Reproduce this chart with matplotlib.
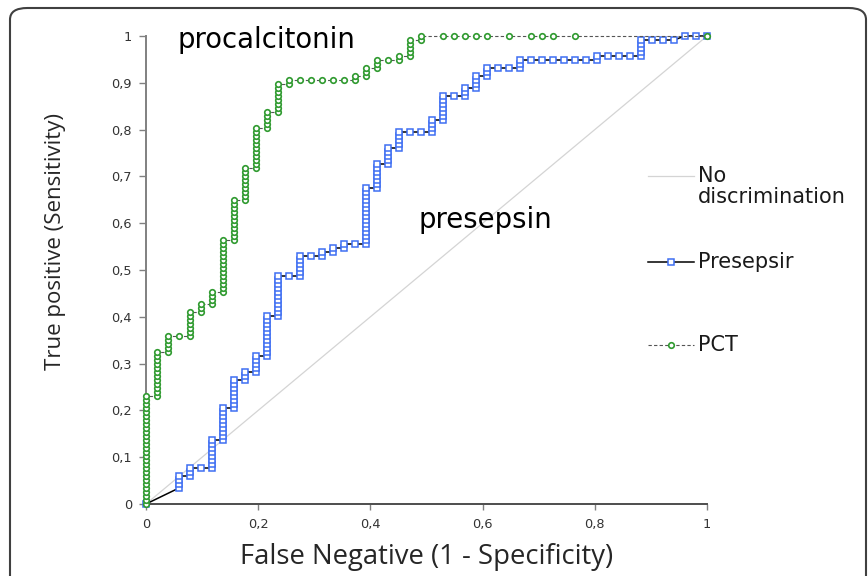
import matplotlib
matplotlib.use("Agg")
import matplotlib.pyplot as plt
from matplotlib.lines import Line2D
from matplotlib.patches import FancyBboxPatch

# ROC counts: number of negatives (false positives) and positives (true positives)
n_neg = 51
n_pos = 117

# Presepsin: false-positive count per column, true-positive counts at each cut-off in that column
presepsin_fp = [0, 3, 4, 5, 6, 7, 8, 9, 10, 11, 12, 13, 14, 15, 16, 17, 18, 19, 20,
                21, 22, 23, 24, 25, 26, 27, 28, 29, 30, 31, 32, 33, 34, 35, 36, 37,
                38, 39, 40, 41, 42, 43, 44, 45, 46, 47, 48, 49, 50, 51]
presepsin_tp = [
    [0],
    [4, 5, 6, 7],
    [7, 8, 9],
    [9],
    [9, 10, 11, 12, 13, 14, 15, 16],
    [16, 17, 18, 19, 20, 21, 22, 23, 24],
    [24, 25, 26, 27, 28, 29, 30, 31],
    [31, 32, 33],
    [33, 34, 35, 36, 37],
    [37, 38, 39, 40, 41, 42, 43, 44, 45, 46, 47],
    [47, 48, 49, 50, 51, 52, 53, 54, 55, 56, 57],
    [57],
    [57, 58, 59, 60, 61, 62],
    [62],
    [62, 63],
    [63, 64],
    [64, 65],
    [65],
    [65, 66, 67, 68, 69, 70, 71, 72, 73, 74, 75, 76, 77, 78, 79],
    [79, 80, 81, 82, 83, 84, 85],
    [85, 86, 87, 88, 89],
    [89, 90, 91, 92, 93],
    [93],
    [93],
    [93, 94, 95, 96],
    [96, 97, 98, 99, 100, 101, 102],
    [102],
    [102, 103, 104],
    [104, 105, 106, 107],
    [107, 108, 109],
    [109],
    [109],
    [109, 110, 111],
    [111], [111], [111], [111], [111], [111],
    [111, 112],
    [112], [112], [112],
    [112, 113, 114, 115, 116],
    [116], [116], [116],
    [117], [117], [117],
]

# Procalcitonin (PCT)
pct_fp = [0, 1, 2, 3, 4, 5, 6, 7, 8, 9, 10, 11, 12, 13, 14, 15, 16, 17, 18, 19,
          20, 21, 22, 23, 24, 25, 27, 28, 29, 30, 31, 33, 35, 36, 37, 39, 51]
pct_tp = [
    [0, 1, 2, 3, 4, 5, 6, 7, 8, 9, 10, 11, 12, 13, 14, 15, 16, 17, 18, 19, 20,
     21, 22, 23, 24, 25, 26, 27],
    [27, 28, 29, 30, 31, 32, 33, 34, 35, 36, 37, 38],
    [38, 39, 40, 41, 42],
    [42],
    [42, 43, 44, 45, 46, 47, 48],
    [48, 49, 50],
    [50, 51, 52, 53],
    [53, 54, 55, 56, 57, 58, 59, 60, 61, 62, 63, 64, 65, 66],
    [66, 67, 68, 69, 70, 71, 72, 73, 74, 75, 76],
    [76, 77, 78, 79, 80, 81, 82, 83, 84],
    [84, 85, 86, 87, 88, 89, 90, 91, 92, 93, 94],
    [94, 95, 96, 97, 98],
    [98, 99, 100, 101, 102, 103, 104, 105],
    [105, 106],
    [106], [106], [106], [106], [106],
    [106, 107],
    [107, 108, 109],
    [109, 110, 111],
    [111],
    [111, 112],
    [112, 113, 114, 115, 116],
    [116, 117],
    [117], [117], [117], [117], [117], [117], [117], [117], [117], [117], [117],
]

chance = [0, 1]

y_ticks = [0, 0.1, 0.2, 0.3, 0.4, 0.5, 0.6, 0.7, 0.8, 0.9, 1]
y_tick_labels = ["0", "0,1", "0,2", "0,3", "0,4", "0,5", "0,6", "0,7", "0,8", "0,9", "1"]
x_ticks = [0, 0.2, 0.4, 0.6, 0.8, 1]
x_tick_labels = ["0", "0,2", "0,4", "0,6", "0,8", "1"]


def roc_points(fp_cols, tp_cols):
    xs, ys = [], []
    for fp, tps in zip(fp_cols, tp_cols):
        for tp in tps:
            xs.append(fp / n_neg)
            ys.append(tp / n_pos)
    return xs, ys


W, H = 868, 576
fig = plt.figure(figsize=(W / 100, H / 100), dpi=100)
ax = fig.add_axes([146 / W, 1 - 504 / H, 561 / W, 468 / H])


def fpos(x, y):
    return x / W, 1 - y / H


blue = "#3f6ff2"
green = "#2f9a2f"

ax.plot(chance, chance, color="#d4d4d4", lw=0.9, zorder=1)

px, py = roc_points(presepsin_fp, presepsin_tp)
ax.plot(px, py, color="black", lw=1.1, marker="s", ms=4.8, mfc="white",
        mec=blue, mew=1.1, zorder=2, clip_on=False)

cx, cy = roc_points(pct_fp, pct_tp)
ax.plot(cx, cy, color="#555555", lw=0.8, ls=(0, (3, 2)), marker="o", ms=4.0,
        mfc="white", mec=green, mew=1.2, zorder=3, clip_on=False)

ax.set_xlim(0, 1)
ax.set_ylim(0, 1)
ax.set_xticks(x_ticks)
ax.set_xticklabels(x_tick_labels)
ax.set_yticks(y_ticks)
ax.set_yticklabels(y_tick_labels)
for side in ["top", "right"]:
    ax.spines[side].set_visible(False)
ax.spines["left"].set_color("#808080")
ax.spines["bottom"].set_color("#4d4d4d")
ax.spines["left"].set_linewidth(1.4)
ax.spines["bottom"].set_linewidth(1.4)
ax.tick_params(axis="y", length=5, width=1, color="#808080", labelsize=9.3,
               labelcolor="#333333", pad=5)
ax.tick_params(axis="x", length=4, width=1, color="#808080", labelsize=9.3,
               labelcolor="#333333", pad=6)

ax.set_xlabel("False Negative (1 - Specificity)", fontsize=19.8, family="Open Sans",
              color="#262626", labelpad=9)
ax.set_ylabel("True positive (Sensitivity)", fontsize=16, family="Open Sans",
              color="#262626")
ax.yaxis.set_label_coords(-0.142, 0.56)

ax.text(0.057, 0.992, "procalcitonin", fontsize=19.8, family="DejaVu Sans",
        va="center", ha="left")
ax.text(0.485, 0.607, "presepsin", fontsize=19.8, family="DejaVu Sans",
        va="center", ha="left")

# legend on the right
leg_font = dict(fontsize=15, family="DejaVu Sans", color="#1a1a1a")
x0, x1 = 648, 694
fig.add_artist(Line2D([fpos(x0, 0)[0], fpos(x1, 0)[0]], [fpos(0, 176)[1]] * 2,
                      color="#d4d4d4", lw=0.9))
fig.text(*fpos(698, 166), "No\ndiscrimination", va="top", ha="left",
         linespacing=1.05, **leg_font)
fig.add_artist(Line2D([fpos(x0, 0)[0], fpos(x1, 0)[0]], [fpos(0, 262)[1]] * 2,
                      color="black", lw=1.1))
fig.add_artist(Line2D([fpos(671, 0)[0]], [fpos(0, 262)[1]], marker="s", ms=4.8,
                      mfc="white", mec=blue, mew=1.1))
fig.text(*fpos(698, 262), "Presepsir", va="center", ha="left", **leg_font)
fig.add_artist(Line2D([fpos(x0, 0)[0], fpos(x1, 0)[0]], [fpos(0, 345)[1]] * 2,
                      color="#555555", lw=0.8, ls=(0, (3, 2))))
fig.add_artist(Line2D([fpos(671, 0)[0]], [fpos(0, 345)[1]], marker="o", ms=4.0,
                      mfc="white", mec=green, mew=1.2))
fig.text(*fpos(698, 345), "PCT", va="center", ha="left", **leg_font)

# rounded frame around the figure
frame = FancyBboxPatch((10 / W, -0.2), (866 - 10) / W, 1.2 - 8 / H,
                       boxstyle="round,pad=0,rounding_size=0.02",
                       transform=fig.transFigure, fill=False,
                       ec="#404040", lw=1.5)
fig.add_artist(frame)

fig.savefig("out.png", dpi=100)
